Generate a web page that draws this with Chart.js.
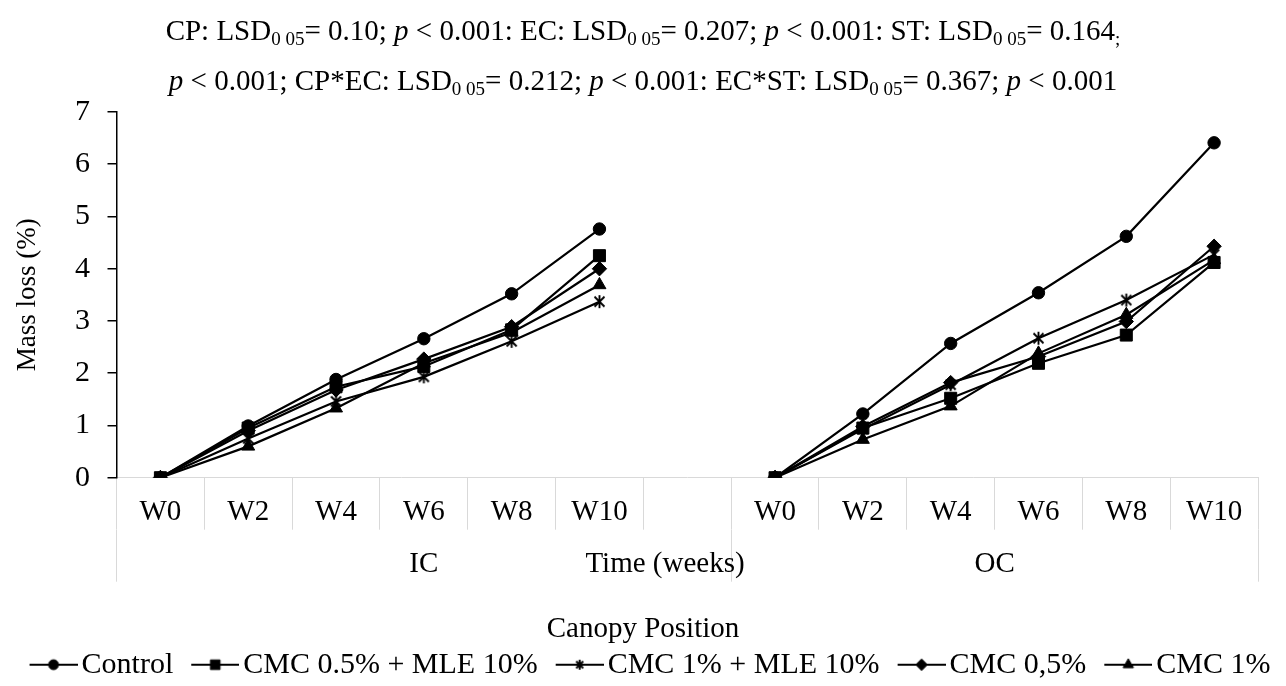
<!DOCTYPE html>
<html>
<head>
<meta charset="utf-8">
<title>Mass loss by canopy position</title>
<script src="https://cdn.jsdelivr.net/npm/chart.js@4.4.1/dist/chart.umd.min.js"></script>
<style>
  html, body { margin: 0; padding: 0; background: #fff; }
  canvas { display: block; }
</style>
</head>
<body>
<canvas id="chart" width="1286" height="686"></canvas>
<script>
var weeks = ['W0', 'W2', 'W4', 'W6', 'W8', 'W10'];
var positions = ['IC', 'OC'];
var treatments = ['Control', 'CMC 0.5% + MLE 10%', 'CMC 1% + MLE 10%', 'CMC 0,5%', 'CMC 1%'];
var yTicks = [0, 1, 2, 3, 4, 5, 6, 7];

// mass loss (%), inner canopy
var icControl  = [0, 0.99, 1.88, 2.66, 3.52, 4.76];
var icCmc05Mle = [0, 0.95, 1.74, 2.13, 2.83, 4.25];
var icCmc1Mle  = [0, 0.75, 1.46, 1.93, 2.61, 3.37];
var icCmc05    = [0, 0.90, 1.68, 2.27, 2.89, 4.00];
var icCmc1     = [0, 0.60, 1.33, 2.19, 2.78, 3.69];

// mass loss (%), outer canopy
var ocControl  = [0, 1.22, 2.57, 3.54, 4.62, 6.41];
var ocCmc05Mle = [0, 0.95, 1.52, 2.19, 2.73, 4.12];
var ocCmc1Mle  = [0, 0.93, 1.78, 2.67, 3.40, 4.27];
var ocCmc05    = [0, 0.98, 1.82, 2.32, 2.99, 4.43];
var ocCmc1     = [0, 0.73, 1.37, 2.38, 3.12, 4.17];

var titleLines = [
  [['CP: LSD'], ['0 05', 'sub'], ['= 0.10; '], ['p', 'it'], [' < 0.001: EC: LSD'], ['0 05', 'sub'], ['= 0.207; '],
   ['p', 'it'], [' < 0.001: ST: LSD'], ['0 05', 'sub'], ['= 0.164'], [';', 'sub']],
  [['p', 'it'], [' < 0.001; CP*EC: LSD'], ['0 05', 'sub'], ['= 0.212; '], ['p', 'it'], [' < 0.001: EC*ST: LSD'],
   ['0 05', 'sub'], ['= 0.367; '], ['p', 'it'], [' < 0.001']]
];

var serif = "'Liberation Serif', 'Times New Roman', serif";
var grey = '#d9d9d9';
var labelSize = 29;
var legendSize = 30;
var rowHeight = 52;

Chart.defaults.font.family = serif;
Chart.defaults.color = '#000';

// one empty slot keeps the two canopy groups apart
var slots = weeks.concat([''], weeks);
function joinGroups(ic, oc) { return ic.concat([null], oc); }

var series = [
  joinGroups(icControl, ocControl),
  joinGroups(icCmc05Mle, ocCmc05Mle),
  joinGroups(icCmc1Mle, ocCmc1Mle),
  joinGroups(icCmc05, ocCmc05),
  joinGroups(icCmc1, ocCmc1)
];

// group spans on the second axis row (IC also owns the empty slot)
var groupSizes = [weeks.length + 1, weeks.length];
var groupEdges = [0];
groupSizes.forEach(function (n, i) { groupEdges.push(groupEdges[i] + n); });
var groupCenters = groupSizes.map(function (n, i) { return groupEdges[i] + n / 2; });

function starMarker(size) {
  var c = document.createElement('canvas');
  c.width = size; c.height = size;
  var g = c.getContext('2d');
  var m = 1.5, h = size / 2;
  g.strokeStyle = '#000';
  g.lineWidth = 1.9;
  g.beginPath();
  g.moveTo(m + 1, m + 1); g.lineTo(size - m - 1, size - m - 1);
  g.moveTo(size - m - 1, m + 1); g.lineTo(m + 1, size - m - 1);
  g.moveTo(h, m - 0.5); g.lineTo(h, size - m + 0.5);
  g.stroke();
  return c;
}

var markers = ['circle', 'rect', starMarker(15), 'rectRot', 'triangle'];
var markerRadius = [6.2, 8.5, 7, 7.2, 7.5];

// legend swatch: short line with the marker in its middle
var legendPad = 4, legendLine = 48, legendLead = 14, legendTail = 4;
var legendBox = legendLine + legendLead + legendTail - legendSize / 2;
var iconWidth = Math.ceil(2 * (legendLead + legendLine - legendBox / 2));
var lineStart = iconWidth / 2 - legendBox / 2 + legendLead;

function legendIcon(i) {
  var c = document.createElement('canvas');
  c.width = iconWidth; c.height = 22;
  var g = c.getContext('2d');
  g.strokeStyle = '#000'; g.fillStyle = '#000';
  g.lineWidth = 2;
  g.beginPath(); g.moveTo(lineStart, 11); g.lineTo(lineStart + legendLine, 11); g.stroke();
  g.lineWidth = 1;
  var style = i === 2 ? starMarker(12) : markers[i];
  Chart.helpers.drawPoint(g, { pointStyle: style, radius: markerRadius[i] * 0.8, rotation: 0, borderWidth: 1 },
    lineStart + legendLine / 2, 11);
  return c;
}

var datasets = treatments.map(function (name, i) {
  return {
    label: name,
    data: series[i],
    borderColor: '#000',
    backgroundColor: '#000',
    borderWidth: 2.2,
    tension: 0,
    spanGaps: false,
    pointStyle: markers[i],
    pointRadius: markerRadius[i],
    pointBackgroundColor: '#000',
    pointBorderColor: '#000',
    pointBorderWidth: 1
  };
});

function segFont(kind) {
  if (kind === 'sub') return '19px ' + serif;
  if (kind === 'it') return 'italic 29px ' + serif;
  return '29px ' + serif;
}

var headerPlugin = {
  id: 'header',
  afterDraw: function (chart) {
    var ctx = chart.ctx;
    var baselines = [40, 90];
    ctx.save();
    ctx.fillStyle = '#000';
    ctx.textBaseline = 'alphabetic';
    ctx.textAlign = 'left';
    titleLines.forEach(function (line, row) {
      var widths = line.map(function (seg) {
        ctx.font = segFont(seg[1]);
        return ctx.measureText(seg[0]).width;
      });
      var total = widths.reduce(function (a, b) { return a + b; }, 0);
      var x = chart.width / 2 - total / 2;
      line.forEach(function (seg, k) {
        ctx.font = segFont(seg[1]);
        ctx.fillText(seg[0], x, baselines[row] + (seg[1] === 'sub' ? 5 : 0));
        x += widths[k];
      });
    });

    // axis title shares the canopy label row
    var x2 = chart.scales.x2;
    ctx.font = labelSize + 'px ' + serif;
    ctx.textAlign = 'center';
    ctx.textBaseline = 'middle';
    ctx.fillText('Time (weeks)', 665, x2.top + 34.3);
    ctx.restore();
  }
};

new Chart(document.getElementById('chart'), {
  type: 'line',
  data: { labels: slots, datasets: datasets },
  plugins: [headerPlugin],
  options: {
    responsive: false,
    animation: false,
    devicePixelRatio: 1,
    layout: { padding: { top: 112, left: 0, right: 0, bottom: 0 } },
    plugins: {
      tooltip: { enabled: false },
      legend: {
        position: 'bottom',
        maxHeight: 104.3,
        title: {
          display: true,
          text: 'Canopy Position',
          color: '#000',
          font: { size: labelSize, lineHeight: 1 },
          padding: { top: 33.5, bottom: 1.5 }
        },
        labels: {
          color: '#000',
          font: { size: legendSize },
          usePointStyle: true,
          pointStyleWidth: legendBox,
          padding: legendPad,
          generateLabels: function (chart) {
            return Chart.defaults.plugins.legend.labels.generateLabels(chart).map(function (item, i) {
              item.pointStyle = legendIcon(i);
              return item;
            });
          }
        }
      }
    },
    scales: {
      x: {
        type: 'category',
        position: 'bottom',
        weight: 0,
        offset: true,
        grid: { offset: true, drawOnChartArea: false, tickLength: rowHeight, color: grey, lineWidth: 1 },
        border: { color: grey },
        ticks: { autoSkip: false, maxRotation: 0, padding: -34.6, color: '#000', font: { size: labelSize } },
        afterFit: function (s) { s.height = rowHeight; s.paddingRight = 28; }
      },
      x2: {
        type: 'linear',
        position: 'bottom',
        weight: 1,
        min: groupEdges[0],
        max: groupEdges[groupEdges.length - 1],
        afterBuildTicks: function (s) {
          s.ticks = groupEdges.concat(groupCenters).sort(function (a, b) { return a - b; })
            .map(function (v) { return { value: v }; });
        },
        grid: {
          drawOnChartArea: false,
          tickLength: rowHeight,
          lineWidth: 1,
          color: function (c) {
            return c.tick && groupEdges.indexOf(c.tick.value) >= 0 ? grey : 'rgba(0,0,0,0)';
          }
        },
        border: { display: false },
        ticks: {
          autoSkip: false,
          maxRotation: 0,
          padding: -35.1,
          color: '#000',
          font: { size: labelSize },
          callback: function (v) {
            var i = groupCenters.indexOf(v);
            return i >= 0 ? positions[i] : '';
          }
        },
        afterFit: function (s) { s.height = rowHeight; }
      },
      y: {
        min: yTicks[0],
        max: yTicks[yTicks.length - 1],
        afterBuildTicks: function (s) { s.ticks = yTicks.map(function (v) { return { value: v }; }); },
        ticks: { padding: 17.5, color: '#000', font: { size: 30 } },
        grid: { drawOnChartArea: false, tickLength: 9, color: '#000', lineWidth: 1.5 },
        border: { color: '#000', width: 1.5 },
        title: {
          display: true,
          text: 'Mass loss (%)',
          color: '#000',
          font: { size: 27 },
          padding: { top: 11.8, bottom: 0 }
        },
        afterFit: function (s) { s.width = 116.5; }
      }
    }
  }
});
</script>
</body>
</html>
